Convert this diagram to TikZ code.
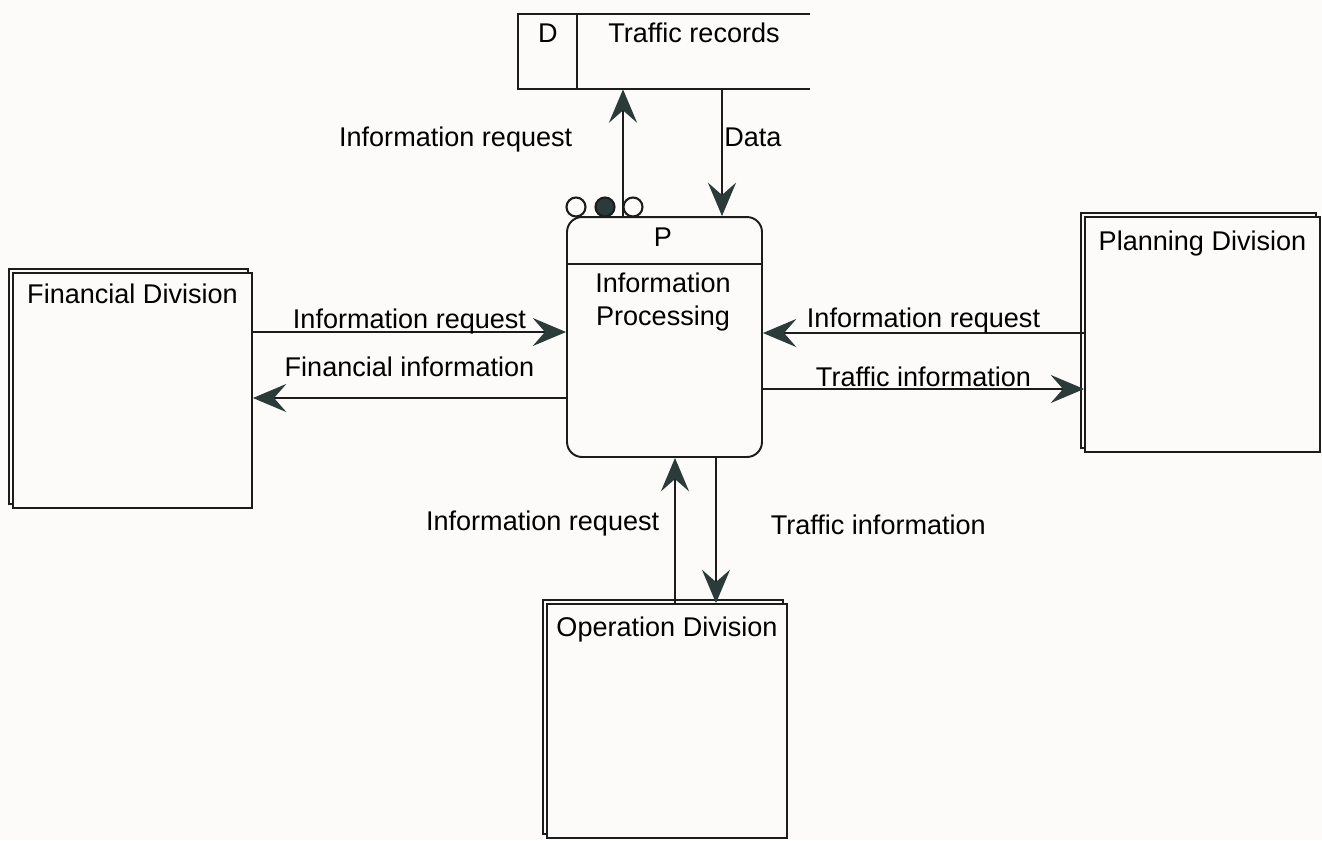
\documentclass[tikz,border=0pt]{standalone}
\usepackage{fontspec}
\setmainfont{Liberation Sans}
\usetikzlibrary{arrows.meta,shadows,positioning,calc}

\definecolor{ink}{HTML}{1C1C1C}
\definecolor{tipgrey}{HTML}{2B3B3A}
\definecolor{paper}{HTML}{FDFBFA}

\tikzset{
  entity/.style={draw=ink,line width=1.1pt,fill=paper,minimum width=4.78cm,minimum height=4.7cm,
    copy shadow={shadow xshift=-0.08cm,shadow yshift=0.08cm,fill=paper,draw=ink}},
  flow/.style={draw=ink,line width=0.9pt,-{Stealth[length=19pt,width=16pt,inset=7pt,color=tipgrey]}},
  lbl/.style={inner sep=0pt},
  blob/.style={circle,draw=ink,line width=1.2pt,minimum size=0.38cm,inner sep=0pt}
}

\begin{document}
\begin{tikzpicture}[x=0.02cm,y=-0.02cm,font=\fontsize{15.4}{19.3}\selectfont]
\fill[paper] (0,0) rectangle (1322,840);
\useasboundingbox (0,0) rectangle (1322,840);

% data store, open on the right
\node (store) at (664,51.5)[minimum width=5.84cm,minimum height=1.5cm,inner sep=0pt]{};
\draw[ink,line width=1.1pt] (store.north east) -- (store.north west) -- (store.south west) -- (store.south east);
\draw[ink,line width=1.1pt] ([xshift=1.18cm]store.north west) -- ([xshift=1.18cm]store.south west);
\node (sid) at (548,33){D};
\node (sname) at (694,33){Traffic records};

% process
\node (proc) at (664.5,337)[draw=ink,line width=1.1pt,rounded corners=0.3cm,fill=paper,minimum width=3.9cm,minimum height=4.8cm]{};
\draw[ink,line width=1.1pt] ([yshift=-0.96cm]proc.north west) -- ([yshift=-0.96cm]proc.north east);
\node (pid) at (663,237){P};
\node (pname) at (663,302)[align=center]{Information\\Processing};

\node (c1) at (576,207)[blob]{};
\node (c2) at (605,207)[blob,fill=tipgrey]{};
\node (c3) at (633,207)[blob]{};

% divisions
\node (fin) at (132.5,390.5)[entity,label={[anchor=center,yshift=-0.44cm]north:Financial Division}]{};
\node (plan) at (1202.5,334.5)[entity,minimum width=4.7cm,label={[anchor=center,yshift=-0.55cm]north:Planning Division}]{};
\node (op) at (667,721)[entity,minimum width=4.8cm,minimum height=4.68cm,label={[anchor=center,yshift=-0.53cm]north:Operation Division}]{};

% flows to and from the store
\coordinate (p1) at ([xshift=-0.83cm]proc.north);
\coordinate (p2) at ([xshift=1.15cm]proc.north);
\draw[flow] (p1) -- (p1 |- store.south) node[lbl,pos=0.547,anchor=base east,xshift=-1cm]{Information request};
\draw[flow] (p2 |- store.south) -- (p2) node[lbl,pos=0.453,anchor=base west,xshift=0.03cm]{Data};

% financial division
\coordinate (f1) at ([yshift=1.17cm]fin.east);
\coordinate (f2) at ([yshift=-1.22cm]proc.west);
\draw[flow] (f1) -- (f1 -| proc.west) node[lbl,midway,anchor=base,yshift=0.08cm]{Information request};
\draw[flow] (f2) -- (f2 -| fin.east) node[lbl,midway,anchor=base,yshift=0.44cm]{Financial information};

% planning division
\coordinate (g1) at ([yshift=0.03cm]plan.west);
\coordinate (g2) at ([yshift=-1.04cm]proc.east);
\draw[flow] (g1) -- (g1 -| proc.east) node[lbl,midway,anchor=base,yshift=0.12cm]{Information request};
\draw[flow] (g2) -- (g2 -| plan.west) node[lbl,midway,anchor=base,yshift=0.06cm]{Traffic information};

% operation division
\coordinate (o1) at ([xshift=0.21cm]proc.south);
\coordinate (o2) at ([xshift=1.03cm]proc.south);
\draw[flow] (o1 |- op.north) -- (o1) node[lbl,pos=0.503,anchor=base east,xshift=-0.3cm]{Information request};
\draw[flow] (o2) -- (o2 |- op.north) node[lbl,pos=0.53,anchor=base west,xshift=1.08cm]{Traffic information};
\end{tikzpicture}
\end{document}
